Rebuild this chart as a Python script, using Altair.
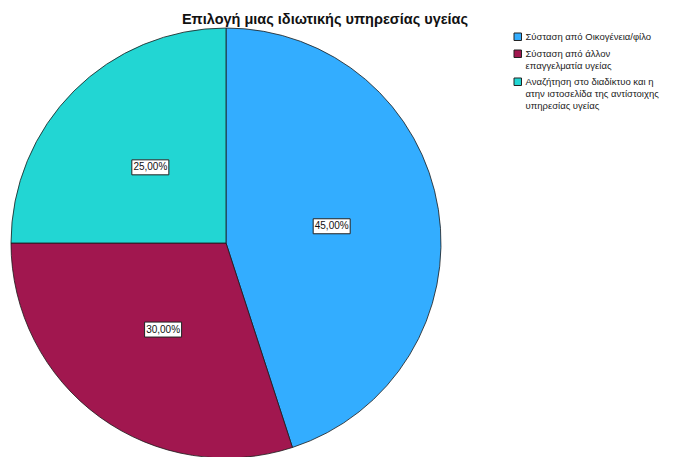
import altair as alt
import pandas as pd

# Survey answers: how a private health service was chosen
categories = [
    "Σύσταση από Οικογένεια/φίλο",
    "Σύσταση από άλλον|επαγγελματία υγείας",
    "Αναζήτηση στο διαδίκτυο και η|ατην ιστοσελίδα της αντίστοιχης|υπηρεσίας υγείας",
]
values = [45.0, 30.0, 25.0]
colors = ["#33adff", "#a1174f", "#22d6d3"]

df = pd.DataFrame({"category": categories, "value": values, "order": range(len(values))})

W, H = 452, 430
LABEL_R = 107

color = alt.Color(
    "category:N",
    sort=categories,
    scale=alt.Scale(domain=categories, range=colors),
    legend=alt.Legend(
        title=None,
        orient="none",
        legendX=513,
        legendY=4,
        symbolType="square",
        symbolSize=56,
        symbolStrokeColor="#222222",
        symbolStrokeWidth=1,
        labelFont="Liberation Sans",
        labelFontSize=9.5,
        labelColor="#222222",
        labelLimit=300,
        labelOffset=3,
        labelExpr="split(datum.label, '|')",
        rowPadding=5,
        symbolOffset=0,
    ),
)

pie = alt.Chart(df).mark_arc(stroke="#1a1a1a", strokeWidth=0.8).encode(
    theta=alt.Theta("value:Q", stack=True),
    order=alt.Order("order:Q"),
    color=color,
)

# label anchor at the middle angle of each slice (clockwise from 12 o'clock)
lab = (
    alt.Chart(df)
    .transform_joinaggregate(total="sum(value)")
    .transform_window(cum="sum(value)", sort=[alt.SortField("order")])
    .transform_calculate(
        mid="(datum.cum - datum.value / 2) / datum.total * 2 * PI",
        label="replace(format(datum.value, '.2f'), '.', ',') + '%'",
    )
    .transform_calculate(
        lx=f"{LABEL_R} * sin(datum.mid)",
        ly=f"{LABEL_R} * cos(datum.mid)",
    )
    .encode(
        x=alt.X("lx:Q", scale=alt.Scale(domain=[-W / 2, W / 2]), axis=None),
        y=alt.Y("ly:Q", scale=alt.Scale(domain=[-H / 2, H / 2]), axis=None),
    )
)

boxes = lab.mark_point(
    shape="M-1,-0.405L1,-0.405L1,0.405L-1,0.405Z",
    size=1369,
    filled=True,
    fill="white",
    stroke="#222222",
    strokeWidth=1,
    opacity=1,
)

labels = lab.mark_text(
    font="Liberation Sans",
    fontSize=10,
    color="#111111",
).encode(text="label:N")

chart = (
    alt.layer(pie, boxes, labels)
    .properties(
        width=W,
        height=H,
        padding={"left": 0, "top": 28, "right": 245, "bottom": 0},
        autosize=alt.AutoSizeParams(type="none"),
        title=alt.TitleParams(
            "Επιλογή μιας ιδιωτικής υπηρεσίας υγείας",
            font="Liberation Sans",
            fontSize=14.5,
            fontWeight="bold",
            color="#111111",
            anchor="middle",
            dx=99,
            offset=-1,
        ),
    )
    .configure(
        style={"guide-label": {"lineHeight": 12}},
        view=alt.ViewConfig(stroke=None),
    )
)

chart.save("out.html", embed_options={"renderer": "svg", "actions": False})
